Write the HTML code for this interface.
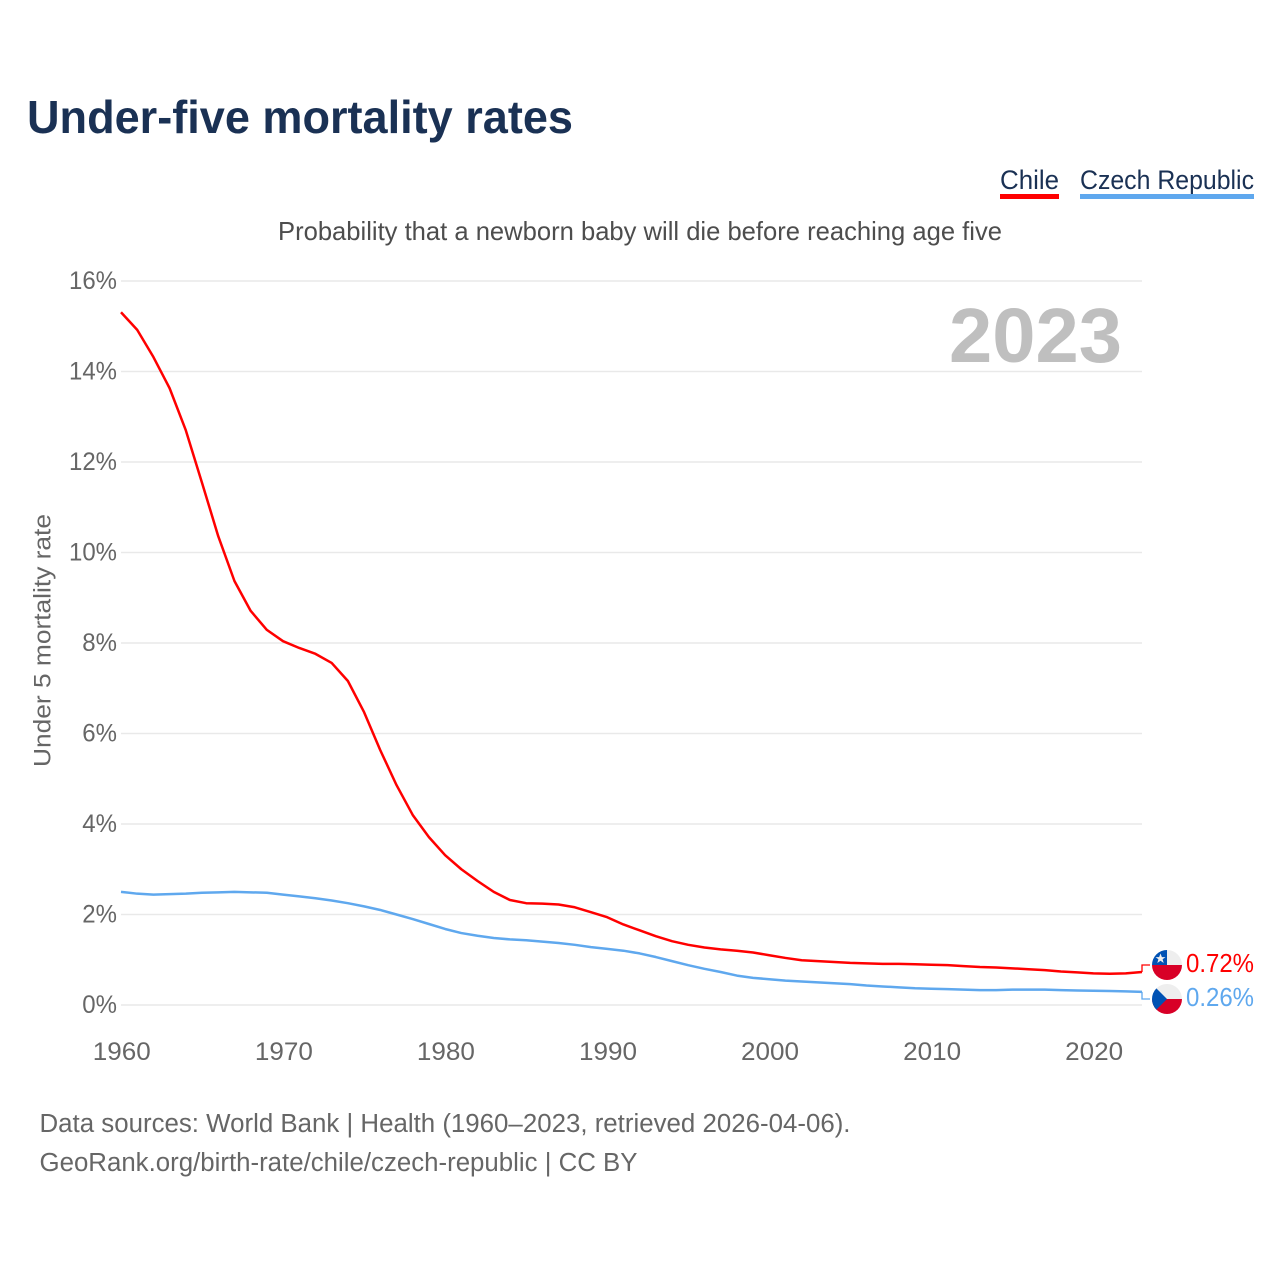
<!DOCTYPE html>
<html lang="en">
<head>
<meta charset="utf-8">
<title>Under-five mortality rates</title>
<style>
html,body{margin:0;padding:0;background:#fff;width:1280px;height:1280px;overflow:hidden}
svg{display:block}
text{font-family:"Liberation Sans",sans-serif}
</style>
</head>
<body>
<svg id="chart" width="1280" height="1280" viewBox="0 0 1280 1280" xmlns="http://www.w3.org/2000/svg">
  <defs>
    <clipPath id="flag-clip-a"><circle cx="1167" cy="965" r="15"/></clipPath>
    <clipPath id="flag-clip-b"><circle cx="1167" cy="999" r="15"/></clipPath>
  </defs>
  <rect x="0" y="0" width="1280" height="1280" fill="#fff"/>
  <text x="27" y="133" font-size="46" font-weight="700" fill="#1a3154" textLength="546" lengthAdjust="spacingAndGlyphs">Under-five mortality rates</text>

  <text x="1000" y="189" font-size="26.5" fill="#1a3154" textLength="59" lengthAdjust="spacingAndGlyphs">Chile</text>
  <rect x="1000" y="194" width="59" height="5" fill="#ff0000"/>
  <text x="1080" y="189" font-size="26.5" fill="#1a3154" textLength="174" lengthAdjust="spacingAndGlyphs">Czech Republic</text>
  <rect x="1080" y="194" width="174" height="5" fill="#5fa8ee"/>

  <text x="278" y="240" font-size="26" fill="#4d4d4d" textLength="724" lengthAdjust="spacingAndGlyphs">Probability that a newborn baby will die before reaching age five</text>

  <g id="grid"></g>
  <g id="y-ticks"></g>
  <g id="x-ticks"></g>

  <text transform="translate(50.5,767) rotate(-90)" x="0" y="0" font-size="24.5" fill="#666" textLength="253" lengthAdjust="spacingAndGlyphs">Under 5 mortality rate</text>

  <text x="949" y="362" font-size="77" font-weight="700" fill="#bfbfbf" textLength="173" lengthAdjust="spacingAndGlyphs">2023</text>

  <g id="series"></g>

  <g clip-path="url(#flag-clip-a)">
    <rect x="1152" y="950" width="30" height="15" fill="#eeeeee"/>
    <rect x="1152" y="965" width="30" height="15" fill="#d80027"/>
    <rect x="1152" y="950" width="15" height="15" fill="#0052b4"/>
    <polygon points="1160.5,953.5 1161.9,957.1 1165.5,957.1 1162.6,959.3 1163.7,963 1160.5,960.8 1157.3,963 1158.4,959.3 1155.5,957.1 1159.1,957.1" fill="#eeeeee"/>
  </g>
  <g clip-path="url(#flag-clip-b)">
    <rect x="1152" y="984" width="30" height="15" fill="#eeeeee"/>
    <rect x="1152" y="999" width="30" height="15" fill="#d80027"/>
    <polygon points="1152,984 1167,999 1152,1014" fill="#0052b4"/>
  </g>

  <text x="1186" y="972" font-size="25.5" fill="#ff0000" textLength="68" lengthAdjust="spacingAndGlyphs">0.72%</text>
  <text x="1186" y="1006" font-size="25.5" fill="#5fa8ee" textLength="68" lengthAdjust="spacingAndGlyphs">0.26%</text>

  <text x="39.5" y="1132" font-size="25.5" fill="#666" textLength="811" lengthAdjust="spacingAndGlyphs">Data sources: World Bank | Health (1960–2023, retrieved 2026-04-06).</text>
  <text x="39.5" y="1171" font-size="25.5" fill="#666" textLength="598" lengthAdjust="spacingAndGlyphs">GeoRank.org/birth-rate/chile/czech-republic | CC BY</text>
</svg>
<script>
var startYear = 1960;
var yTickValues = [0, 2, 4, 6, 8, 10, 12, 14, 16];
var xTickValues = [1960, 1970, 1980, 1990, 2000, 2010, 2020];
var chileValues = [15.31, 14.92, 14.32, 13.63, 12.7, 11.54, 10.36, 9.37, 8.71, 8.29,
  8.04, 7.89, 7.76, 7.56, 7.16, 6.47, 5.63, 4.86, 4.2, 3.71,
  3.31, 3.0, 2.74, 2.5, 2.32, 2.25, 2.24, 2.22, 2.16, 2.05,
  1.94, 1.78, 1.65, 1.52, 1.41, 1.33, 1.27, 1.23, 1.2, 1.16,
  1.1, 1.04, 0.99, 0.97, 0.95, 0.93, 0.92, 0.91, 0.91, 0.9,
  0.89, 0.88, 0.86, 0.84, 0.83, 0.81, 0.79, 0.77, 0.74, 0.72,
  0.7, 0.69, 0.7, 0.73];
var czechValues = [2.5, 2.46, 2.44, 2.45, 2.46, 2.48, 2.49, 2.5, 2.49, 2.48,
  2.44, 2.4, 2.36, 2.31, 2.25, 2.18, 2.1, 2.0, 1.9, 1.79,
  1.68, 1.59, 1.53, 1.48, 1.45, 1.43, 1.4, 1.37, 1.33, 1.28,
  1.24, 1.2, 1.14, 1.06, 0.97, 0.88, 0.8, 0.73, 0.65, 0.6,
  0.57, 0.54, 0.52, 0.5, 0.48, 0.46, 0.43, 0.41, 0.39, 0.37,
  0.36, 0.35, 0.34, 0.33, 0.33, 0.34, 0.34, 0.34, 0.33, 0.32,
  0.315, 0.31, 0.3, 0.29];

var NS = 'http://www.w3.org/2000/svg';
function xScale(year) { return 121 + (year - 1960) * (1142 - 121) / 63; }
function yScale(value) { return 1005 - value * (1005 - 281) / 16; }

var gridGroup = document.getElementById('grid');
var yTickGroup = document.getElementById('y-ticks');
var xTickGroup = document.getElementById('x-ticks');
var seriesGroup = document.getElementById('series');

yTickValues.forEach(function (v) {
  var line = document.createElementNS(NS, 'line');
  
  
  line.setAttribute('x1', 121);
  line.setAttribute('x2', 1142);
  line.setAttribute('y1', yScale(v));
  line.setAttribute('y2', yScale(v));
  line.setAttribute('stroke', '#e9e9e9');
  line.setAttribute('stroke-width', '1.5');
  gridGroup.appendChild(line);

  var label = document.createElementNS(NS, 'text');
  
  
  label.setAttribute('x', 117);
  label.setAttribute('y', yScale(v) + 8);
  label.setAttribute('text-anchor', 'end');
  label.setAttribute('font-size', '25');
  label.setAttribute('fill', '#666');
  label.textContent = v + '%';
  yTickGroup.appendChild(label);
  label.setAttribute('textLength', (label.getComputedTextLength() * 0.96).toFixed(1));
  label.setAttribute('lengthAdjust', 'spacingAndGlyphs');
});

xTickValues.forEach(function (year) {
  var label = document.createElementNS(NS, 'text');
  
  
  label.setAttribute('x', xScale(year) + 0.8);
  label.setAttribute('y', 1060);
  label.setAttribute('text-anchor', 'middle');
  label.setAttribute('font-size', '25');
  label.setAttribute('fill', '#666');
  label.setAttribute('textLength', '58');
  label.setAttribute('lengthAdjust', 'spacingAndGlyphs');
  label.textContent = year;
  xTickGroup.appendChild(label);
});

function seriesPath(values) {
  return values.map(function (v, i) {
    return (i ? 'L' : 'M') + xScale(startYear + i).toFixed(2) + ' ' + yScale(v).toFixed(2);
  }).join(' ');
}

function connectorPath(values, targetY) {
  var endX = xScale(startYear + values.length - 1);
  var endY = yScale(values[values.length - 1]);
  return 'M' + endX.toFixed(2) + ' ' + endY.toFixed(2) + ' L' + endX.toFixed(2) + ' ' + targetY + ' L1150 ' + targetY;
}

var czechLine = document.createElementNS(NS, 'path');


czechLine.setAttribute('d', seriesPath(czechValues));
czechLine.setAttribute('fill', 'none');
czechLine.setAttribute('stroke', '#5fa8ee');
czechLine.setAttribute('stroke-width', '2.5');
czechLine.setAttribute('stroke-linejoin', 'round');
seriesGroup.appendChild(czechLine);

var chileLine = document.createElementNS(NS, 'path');


chileLine.setAttribute('d', seriesPath(chileValues));
chileLine.setAttribute('fill', 'none');
chileLine.setAttribute('stroke', '#ff0000');
chileLine.setAttribute('stroke-width', '2.5');
chileLine.setAttribute('stroke-linejoin', 'round');
seriesGroup.appendChild(chileLine);

var czechConnector = document.createElementNS(NS, 'path');


czechConnector.setAttribute('d', connectorPath(czechValues, 999));
czechConnector.setAttribute('fill', 'none');
czechConnector.setAttribute('stroke', '#5fa8ee');
czechConnector.setAttribute('stroke-width', '1.3');
seriesGroup.appendChild(czechConnector);

var chileConnector = document.createElementNS(NS, 'path');


chileConnector.setAttribute('d', connectorPath(chileValues, 965));
chileConnector.setAttribute('fill', 'none');
chileConnector.setAttribute('stroke', '#ff0000');
chileConnector.setAttribute('stroke-width', '1.3');
seriesGroup.appendChild(chileConnector);
</script>
</body>
</html>
